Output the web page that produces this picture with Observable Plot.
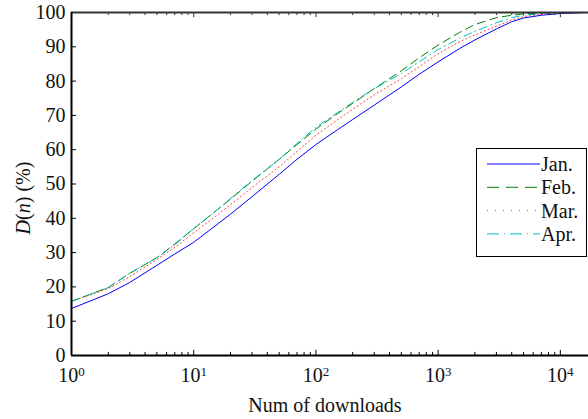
<!DOCTYPE html>
<html><head><meta charset="utf-8">
<script src="https://cdn.jsdelivr.net/npm/d3@7"></script>
<script src="https://cdn.jsdelivr.net/npm/@observablehq/plot@0.6"></script>
<style>
body{margin:0;background:#fff;}
svg, svg text{font-family:"Liberation Serif","Times New Roman",serif;}
</style>
</head><body><div id="chart"></div>
<script>
// Number of downloads (x) and cumulative share D(n) in % per month
const downloads = [1,2,3,5,7,10,15,20,30,50,70,100,150,200,300,500,700,1000,1500,2000,3000,4000,5000,7000,10000,17000];
const jan = [13.7,18.0,21.3,26.3,29.6,33.0,37.8,41.2,46.3,52.8,57.2,61.5,65.8,68.8,73.0,78.3,82.0,85.6,89.5,92.0,95.2,97.3,98.4,99.2,99.7,100];
const feb = [15.8,19.8,24.0,28.5,32.5,37.0,42.0,45.6,50.8,57.2,61.5,66.0,70.5,73.5,77.8,83.0,86.8,90.5,94.2,96.5,98.5,99.2,99.6,99.9,100,100];
const mar = [15.8,19.5,23.0,28.0,31.5,35.8,40.5,44.0,49.0,55.0,59.5,64.2,68.7,71.8,76.0,80.7,84.2,88.0,91.5,93.5,96.0,97.8,98.8,99.5,100,100];
const apr = [15.8,19.8,24.0,28.5,32.3,37.0,42.0,45.8,51.0,57.2,61.8,66.5,70.8,73.8,77.8,82.2,85.6,89.2,92.5,94.5,97.0,98.5,99.2,99.7,100,100];
const seriesNames = ["Jan.","Feb.","Mar.","Apr."];
const xTicks = [1,10,100,1000,10000];
const yTicks = [0,10,20,30,40,50,60,70,80,90,100];
const xLabel = "Num of downloads";

const styles = [
  {color:"#0000ff", dash:null, legendDash:null},
  {color:"#008000", dash:"8,5", legendDash:"12,7"},
  {color:"#ff3333", dash:"1,3", legendDash:"1,7"},
  {color:"#00bfbf", dash:"8,4,1,4", legendDash:"12,5,1,5"}
];
const values = [jan, feb, mar, apr];
const xMax = 17000;
const xMinor = [];
for (let e = 0; e < 5; e++) for (let k = 2; k < 10; k++) { const v = k * 10 ** e; if (v < xMax) xMinor.push(v); }

const lineMarks = values.map((vals, si) =>
  Plot.line(downloads.map((n, i) => ({n, v: vals[i]})), {
    x: "n", y: "v", stroke: styles[si].color, strokeWidth: 1,
    strokeDasharray: styles[si].dash, clip: true
  })
);

const FS = 20;
const tk = 1.5;   // major tick length in y units
const tkm = 0.9;  // minor tick length in y units
const ytk = 10 ** (5 / 122.2); // y tick length along log x

const chart = Plot.plot({
  width: 588, height: 419,
  marginLeft: 71, marginRight: 0, marginTop: 12, marginBottom: 64,
  style: {fontFamily: '"Liberation Serif","Times New Roman",serif', fontSize: FS + "px", background: "white", color: "#111"},
  x: {type: "log", domain: [1, xMax]},
  y: {domain: [0, 100]},
  marks: [
    ...lineMarks,
    Plot.axisX(xTicks, {tickSize: 0, tickPadding: 12, tickFormat: d => String(Math.round(Math.log10(d))), fontSize: FS, label: null}),
    Plot.axisY(yTicks, {tickSize: 0, tickPadding: 6, fontSize: FS, label: null}),
    Plot.ruleX(xTicks, {x: d => d, y1: 0, y2: tk, stroke: "#000"}),
    Plot.ruleX(xMinor, {x: d => d, y1: 0, y2: tkm, stroke: "#000"}),
    Plot.ruleX(xTicks, {x: d => d, y1: 100, y2: 100 - tk, stroke: "#333"}),
    Plot.ruleX(xMinor, {x: d => d, y1: 100, y2: 100 - tkm, stroke: "#333"}),
    Plot.ruleY(yTicks, {y: d => d, x1: 1, x2: ytk, stroke: "#000"}),
    Plot.ruleY([100], {stroke: "#333", strokeWidth: 2}),
    Plot.ruleY([0], {stroke: "#000", strokeWidth: 2}),
    Plot.ruleX([1], {stroke: "#000", strokeWidth: 2})
  ]
});

const svg = d3.select(chart);
// superscript exponents on x tick labels
svg.selectAll('[aria-label="x-axis tick label"] text').each(function() {
  const t = d3.select(this);
  const exp = t.text();
  t.text("10");
  t.append("tspan").attr("dy", "-0.45em").attr("font-size", "13px").text(exp);
});
// y label with italic D and n
const yl = svg.append("text")
  .attr("transform", "translate(30,198) rotate(-90)")
  .attr("text-anchor", "middle").attr("font-size", FS).attr("fill", "#111");
yl.append("tspan").attr("font-style", "italic").text("D");
yl.append("tspan").text("(");
yl.append("tspan").attr("font-style", "italic").text("n");
yl.append("tspan").text(") (%)");
// x label
svg.append("text").attr("x", 325).attr("y", 412).attr("text-anchor", "middle")
  .attr("font-size", FS).attr("fill", "#111").text(xLabel);
// legend
const lg = svg.append("g");
lg.append("rect").attr("x", 476.5).attr("y", 148.5).attr("width", 110).attr("height", 108)
  .attr("fill", "white").attr("stroke", "#000").attr("stroke-width", 1);
seriesNames.forEach((name, i) => {
  const y = 164 + i * 23.3;
  lg.append("line").attr("x1", 487).attr("x2", 540).attr("y1", y).attr("y2", y)
    .attr("stroke", styles[i].color).attr("stroke-width", 1)
    .attr("stroke-dasharray", styles[i].legendDash);
  lg.append("text").attr("x", 541).attr("y", y).attr("dy", "0.35em")
    .attr("text-anchor", "start")
    .attr("font-size", FS).attr("fill", "#111").text(name);
});
document.getElementById("chart").appendChild(chart);
</script>
</body></html>
